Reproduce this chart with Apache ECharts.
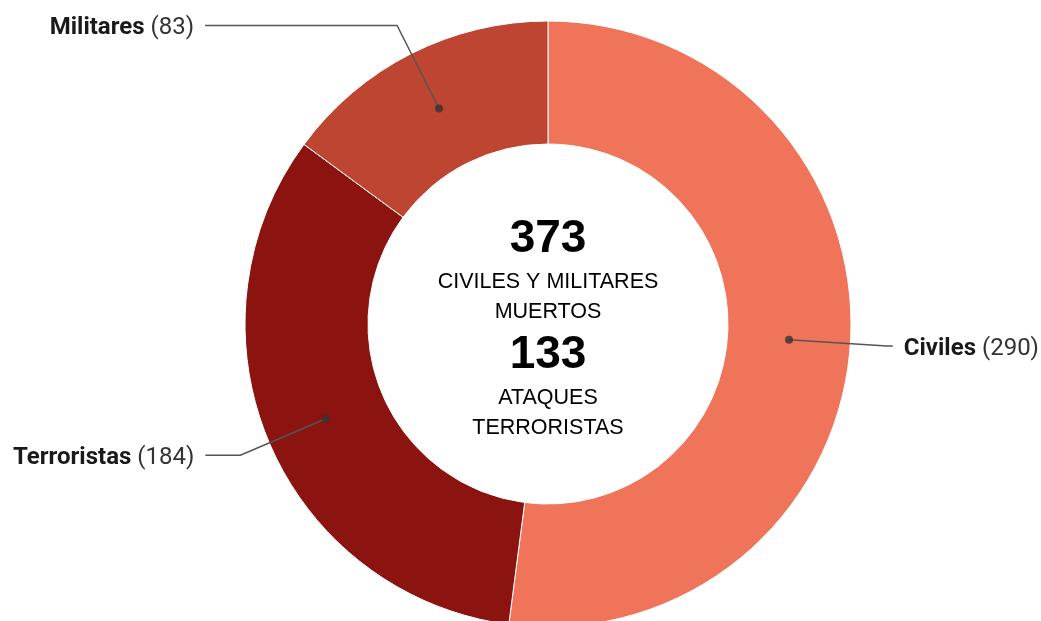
<!DOCTYPE html>
<html>
<head>
<meta charset="utf-8">
<script src="https://cdn.jsdelivr.net/npm/echarts@6/dist/echarts.min.js"></script>
<style>
  html, body { margin: 0; padding: 0; background: #fff; }
  #chart { width: 1041px; height: 621px; }
</style>
</head>
<body>
<div id="chart"></div>
<script>
const categories = ['Civiles', 'Terroristas', 'Militares'];
const values = [290, 184, 83];
const colors = ['#f0745a', '#8b1410', '#bd4531'];
const centerNumbers = ['373', '133'];
const centerCaptions = [['CIVILES Y MILITARES', 'MUERTOS'], ['ATAQUES', 'TERRORISTAS']];

// leader line lengths per slice
const lineLen = [98, 93, 93];
const lineLen2 = [6, 35, 192];

const CX = 548, CY = 324, R_OUT = 303, R_IN = 180;
const R_MID = (R_OUT + R_IN) / 2;
const total = values.reduce((a, b) => a + b, 0);

let acc = 0;
const midPoints = values.map(v => {
  const m = acc + v / 2;
  acc += v;
  return [R_MID, m];
});

const myChart = echarts.init(document.getElementById('chart'));

const option = {
  animation: false,
  polar: { center: [CX, CY], radius: R_OUT },
  angleAxis: { type: 'value', min: 0, max: total, startAngle: 90, clockwise: true, show: false },
  radiusAxis: { type: 'value', min: 0, max: R_OUT, show: false },
  graphic: [{
    type: 'text',
    x: CX,
    y: 211,
    z: 100,
    style: {
      text: [
        '{big|' + centerNumbers[0] + '}',
        '{small|' + centerCaptions[0][0] + '}',
        '{small|' + centerCaptions[0][1] + '}',
        '{big|' + centerNumbers[1] + '}',
        '{small|' + centerCaptions[1][0] + '}',
        '{small|' + centerCaptions[1][1] + '}'
      ].join('\n'),
      align: 'center',
      verticalAlign: 'top',
      rich: {
        big: { fontFamily: 'Liberation Sans', fontWeight: 'bold', fontSize: 46, lineHeight: 56, fill: '#000', align: 'center' },
        small: { fontFamily: 'Liberation Sans', fontSize: 21.5, lineHeight: 30, fill: '#000', align: 'center' }
      }
    }
  }],
  series: [
    {
      type: 'pie',
      center: [CX, CY],
      radius: [R_IN, R_OUT],
      startAngle: 90,
      clockwise: true,
      silent: true,
      label: { show: false },
      labelLine: { show: false },
      itemStyle: { borderColor: '#fff', borderWidth: 1 },
      data: categories.map((c, i) => ({ name: c, value: values[i], itemStyle: { color: colors[i] } }))
    },
    {
      type: 'pie',
      center: [CX, CY],
      radius: [0, R_MID],
      startAngle: 90,
      clockwise: true,
      silent: true,
      z: 3,
      itemStyle: { color: 'rgba(0,0,0,0)' },
      label: {
        show: true,
        position: 'outside',
        overflow: 'none',
        padding: [5, 0, 0, 0],
        distanceToLabelLine: 11,
        formatter: p => '{b|' + p.name + '}{v| (' + p.value + ')}',
        rich: {
          b: { fontFamily: 'Roboto', fontWeight: 'bold', fontSize: 24, color: '#1a1a1a' },
          v: { fontFamily: 'Roboto', fontSize: 24, color: '#333' }
        }
      },
      labelLine: {
        show: true,
        lineStyle: { color: '#555', width: 1.5 }
      },
      data: categories.map((c, i) => ({
        name: c,
        value: values[i],
        labelLine: { length: lineLen[i], length2: lineLen2[i] }
      }))
    },
    {
      type: 'scatter',
      coordinateSystem: 'polar',
      symbol: 'circle',
      symbolSize: 8,
      silent: true,
      z: 4,
      itemStyle: { color: '#333' },
      data: midPoints
    }
  ]
};
myChart.setOption(option);
</script>
</body>
</html>
